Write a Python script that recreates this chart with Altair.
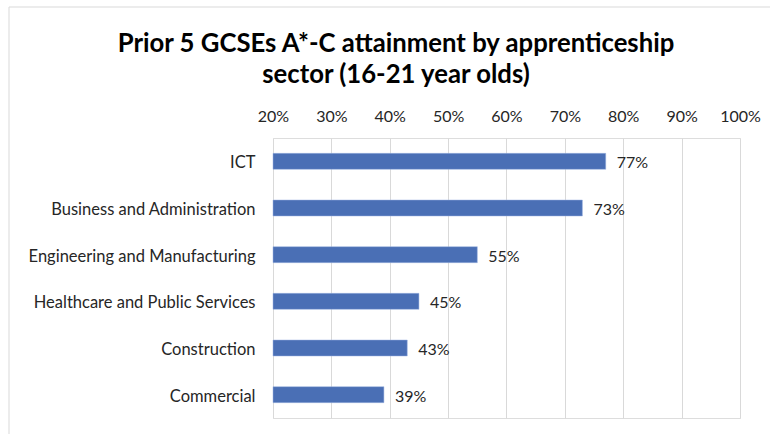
import altair as alt
import pandas as pd

sectors = ["ICT", "Business and Administration", "Engineering and Manufacturing",
           "Healthcare and Public Services", "Construction", "Commercial"]
values = [0.77, 0.73, 0.55, 0.45, 0.43, 0.39]
labels = ["77%", "73%", "55%", "45%", "43%", "39%"]
title_lines = ["Prior 5 GCSEs A*-C attainment by apprenticeship", "sector (16-21 year olds)"]
axis_min = 0.2
axis_max = 1.0

df = pd.DataFrame({"sector": sectors, "value": values, "label": labels})

FONT = "Lato"
TXT = "#262626"

xscale = alt.Scale(domain=[axis_min, axis_max], nice=False, zero=False)
yenc = alt.Y("sector:N", sort=sectors, title=None,
             axis=alt.Axis(domain=False, ticks=False, labelPadding=18, labelFontSize=16.5,
                           labelColor=TXT, labelFont=FONT, grid=False, labelLimit=0,
                           labelOffset=2))

frame = alt.Chart(pd.DataFrame({"a": [0]})).mark_rect(
    fill=None, stroke="#d9d9d9", strokeWidth=1
).encode(x=alt.value(-264), x2=alt.value(560), y=alt.value(-131), y2=alt.value(320))

title1 = alt.Chart(pd.DataFrame({"t": [title_lines[0]]})).mark_text(
    font=FONT, fontSize=25.7, fontWeight="bold", color="#000000", align="center", baseline="alphabetic"
).encode(text="t:N", x=alt.value(123), y=alt.value(-86))
title2 = alt.Chart(pd.DataFrame({"t": [title_lines[1]]})).mark_text(
    font=FONT, fontSize=25.7, fontWeight="bold", color="#000000", align="center", baseline="alphabetic"
).encode(text="t:N", x=alt.value(123), y=alt.value(-55))

bars = alt.Chart(df).mark_bar(size=16, color="#4A6FB5", stroke="#9db3e0", strokeWidth=0.5).encode(
    x=alt.X("value:Q", scale=xscale, title=None,
            axis=alt.Axis(orient="top", format=".0%", values=[0.2, 0.3, 0.4, 0.5, 0.6, 0.7, 0.8, 0.9, 1.0],
                          domain=False, ticks=False, labelPadding=14, labelFontSize=16,
                          labelColor=TXT, labelFont=FONT, grid=True, gridColor="#d9d9d9",
                          gridWidth=1, labelFlush=False, labelOverlap=False, labelBound=False)),
    x2=alt.datum(axis_min),
    y=yenc,
)

text = alt.Chart(df).mark_text(align="left", baseline="middle", dx=11, dy=2, fontSize=16,
                               font=FONT, color=TXT).encode(
    x=alt.X("value:Q", scale=xscale),
    y=alt.Y("sector:N", sort=sectors),
    text="label:N",
)

chart = alt.layer(frame, title1, title2, bars, text).properties(
    width=467, height=280,
    autosize=alt.AutoSizeParams(type="none"),
    padding={"left": 273, "top": 138, "right": 30, "bottom": 16},
).configure_view(stroke=None).configure(background="white")

chart.save("out.html", embed_options={"renderer": "svg", "actions": False})
